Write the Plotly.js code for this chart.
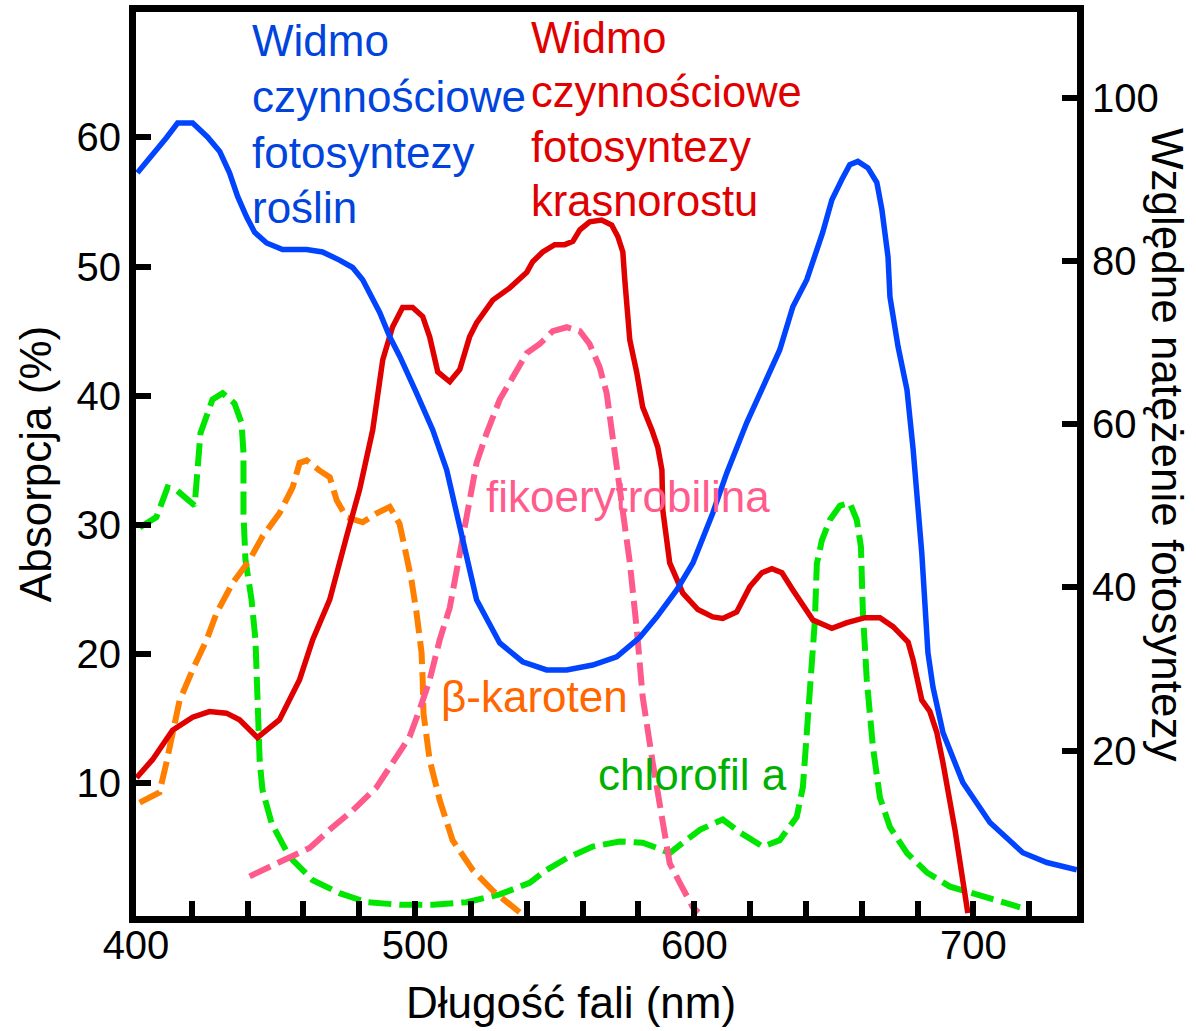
<!DOCTYPE html>
<html>
<head>
<meta charset="utf-8">
<script src="https://cdn.plot.ly/plotly-3.0.1.min.js"></script>
<style>html,body{margin:0;padding:0;background:#fff;}#chart{width:1196px;height:1031px;}</style>
</head>
<body>
<div id="chart"></div>
<script>
// Action spectrum of plants (right axis, relative photosynthesis rate)
const plantNm = [400.5,405.6,410.9,414.9,420.3,425.6,430.0,433.5,436.4,439.6,442.5,446.8,452.5,461.1,466.8,472.9,477.6,481.2,487.3,490.9,494.5,500.5,506.3,511.3,514.2,517.7,522.0,530.3,538.5,547.1,554.3,563.6,572.2,580.5,586.6,593.7,599.5,606.6,611.6,618.8,626.0,630.6,635.3,640.3,646.0,649.3,652.9,655.7,658.6,662.2,665.4,667.2,669.4,670.1,673.0,676.2,678.4,680.8,681.5,683.7,685.5,689.1,696.2,705.9,717.7,726.3,737.0];
const plantAction = [90.8,92.8,95.1,96.9,96.9,95.2,93.4,90.8,87.9,85.4,83.5,82.2,81.4,81.4,81.1,80.1,79.2,77.7,73.7,70.7,68.3,63.8,59.3,54.4,49.9,45.2,38.5,33.2,30.9,29.9,29.9,30.5,31.5,33.9,36.4,39.7,43.0,49.1,54.0,60.2,65.8,69.1,74.4,77.7,83.5,87.5,90.0,91.8,92.2,91.4,89.6,86.3,80.5,75.6,69.5,64.2,56.9,47.1,44.2,32.0,27.8,22.2,16.1,11.2,7.5,6.3,5.4];

// Action spectrum of red alga (right axis)
const algaNm = [400.2,405.9,413.1,420.3,426.3,432.4,437.1,443.5,451.4,458.6,463.3,469.4,475.4,480.1,484.8,488.4,491.9,495.5,499.1,502.7,505.2,508.1,512.4,516.0,519.5,522.0,527.8,533.9,540.0,542.1,545.7,550.0,553.6,556.5,559.0,562.5,566.8,570.4,572.6,574.4,575.1,576.9,579.4,581.5,584.8,586.9,588.4,588.7,591.2,595.9,601.3,606.6,610.2,615.2,619.9,624.2,627.8,631.4,635.3,642.5,649.3,654.7,661.2,666.5,671.2,676.6,678.4,681.5,684.4,686.9,689.1,691.6,693.4,695.2,697.0,698.0];
const algaAction = [16.7,18.9,22.5,24.1,24.8,24.6,23.8,21.6,23.8,28.7,33.6,38.5,46.2,52.0,59.3,67.9,71.9,74.3,74.3,73.2,70.7,66.4,65.2,66.7,70.7,72.4,75.2,76.7,78.6,79.9,81.1,82.0,82.0,82.4,83.8,84.8,85.0,84.4,83.0,81.1,77.7,70.3,66.3,62.1,59.3,57.2,54.4,49.5,43.0,39.3,37.3,36.4,36.2,37.0,40.1,41.8,42.3,41.8,39.7,36.0,35.0,35.7,36.3,36.3,35.2,33.3,31.1,26.2,24.8,22.2,18.5,14.0,10.3,6.3,2.9,0.1];

// Chlorophyll a absorption (left axis, %)
const chlNm = [401.3,407.3,411.3,414.5,421.0,421.7,423.1,427.4,431.0,435.3,437.8,438.5,438.5,439.2,441.4,442.8,443.5,444.3,445.3,448.6,455.0,463.3,472.9,482.6,494.4,506.3,518.5,530.3,541.0,547.1,554.3,563.6,573.3,581.5,586.6,591.2,595.9,602.0,610.2,616.3,624.6,630.6,636.7,638.9,640.3,642.1,643.2,643.9,645.7,648.6,652.2,655.7,658.2,659.7,660.4,661.8,664.0,666.5,670.1,676.2,683.3,691.6,699.8,708.4,716.7];
const chlAbs = [29.8,30.6,32.9,32.7,31.5,33.7,37.1,39.7,40.2,39.4,37.9,35.6,30.9,27.3,24.2,21.1,16.4,11.8,9.5,6.9,4.3,2.5,1.5,0.8,0.6,0.6,0.8,1.4,2.3,3.3,4.2,5.1,5.5,5.4,5.0,4.6,5.4,6.4,7.2,6.2,5.1,5.6,7.4,9.7,13.9,19.0,22.6,27.0,28.8,30.4,31.5,31.7,30.4,28.3,23.2,18.0,12.8,8.9,6.6,4.6,3.1,2.0,1.5,1.0,0.4];

// beta-carotene absorption (left axis, %)
const carNm = [401.3,408.4,410.9,413.1,415.6,420.3,425.3,428.9,434.6,440.7,445.3,451.4,456.1,458.6,461.1,465.8,469.4,471.9,475.4,481.2,486.2,490.9,494.4,496.2,498.7,500.5,502.3,502.7,503.0,505.2,508.8,513.4,520.6,527.8,537.5];
const carAbs = [8.5,9.3,11.6,14.1,16.4,18.8,21.1,23.2,25.5,27.3,29.1,30.9,32.9,34.8,35.0,34.2,33.7,31.9,30.6,30.2,30.9,31.4,30.1,28.3,25.7,23.2,20.1,18.0,15.4,11.8,8.7,5.6,3.3,1.7,0.0];

// Phycoerythrobilin absorption (left axis, %)
const pebNm = [440.7,451.4,462.2,470.4,477.6,486.2,491.9,498.0,501.6,505.2,508.8,512.4,514.9,517.1,519.5,522.0,525.6,530.3,534.9,540.0,544.6,549.3,554.3,559.0,562.5,566.1,568.6,570.4,572.6,574.4,576.9,579.4,581.5,585.1,588.7,591.2,594.8,599.5,601.5];
const pebAbs = [2.8,3.9,5.0,6.6,7.9,9.7,11.6,13.6,15.7,18.0,21.1,23.6,26.5,29.1,32.2,34.8,37.1,39.7,41.4,43.3,44.0,45.0,45.3,45.0,44.0,42.2,40.2,37.3,34.2,30.8,27.1,21.9,16.7,11.6,6.6,3.8,2.3,0.4,0.0];

const xTickVals = [400,500,600,700];
const yLeftTicks = [10,20,30,40,50,60];
const yRightTicks = [20,40,60,80,100];

const xTitle = 'Długość fali (nm)';
const yLeftTitle = 'Absorpcja (%)';
const yRightTitle = 'Względne natężenie fotosyntezy';

const plantLabel = ['Widmo','czynnościowe','fotosyntezy','roślin'];
const algaLabel = ['Widmo','czynnościowe','fotosyntezy','krasnorostu'];

const FONT = '"Liberation Sans", Arial, sans-serif';
const DASH = '23px,8px';

const traces = [
  {x: chlNm, y: chlAbs, yaxis: 'y', mode: 'lines', line: {color: '#00e600', width: 6, dash: DASH}, hoverinfo: 'skip'},
  {x: carNm, y: carAbs, yaxis: 'y', mode: 'lines', line: {color: '#ff8000', width: 6, dash: DASH}, hoverinfo: 'skip'},
  {x: pebNm, y: pebAbs, yaxis: 'y', mode: 'lines', line: {color: '#ff5a8c', width: 6, dash: DASH}, hoverinfo: 'skip'},
  {x: algaNm, y: algaAction, yaxis: 'y2', mode: 'lines', line: {color: '#e00000', width: 5.5}, hoverinfo: 'skip'},
  {x: plantNm, y: plantAction, yaxis: 'y2', mode: 'lines', line: {color: '#0044ff', width: 5.5}, hoverinfo: 'skip'}
];

const annotations = [];
const plantY = [0.968, 0.906, 0.845, 0.784];
plantLabel.forEach((t, i) => annotations.push({text: t, xref: 'paper', yref: 'paper', x: 0.1215, y: plantY[i], xanchor: 'left', yanchor: 'middle', showarrow: false, font: {family: FONT, size: 44, color: '#0044dd'}}));
const algaY = [0.971, 0.912, 0.851, 0.791];
algaLabel.forEach((t, i) => annotations.push({text: t, xref: 'paper', yref: 'paper', x: 0.4175, y: algaY[i], xanchor: 'left', yanchor: 'middle', showarrow: false, font: {family: FONT, size: 43.5, color: '#e00000'}}));
annotations.push({text: 'fikoerytrobilina', xref: 'paper', yref: 'paper', x: 0.3695, y: 0.4635, xanchor: 'left', yanchor: 'middle', showarrow: false, font: {family: FONT, size: 44, color: '#ff5c8d'}});
annotations.push({text: 'β-karoten', xref: 'paper', yref: 'paper', x: 0.3225, y: 0.2423, xanchor: 'left', yanchor: 'middle', showarrow: false, font: {family: FONT, size: 44, color: '#ff6600'}});
annotations.push({text: 'chlorofil a', xref: 'paper', yref: 'paper', x: 0.4885, y: 0.156, xanchor: 'left', yanchor: 'middle', showarrow: false, font: {family: FONT, size: 44, color: '#00b000'}});
// right axis title, reading top to bottom
annotations.push({text: yRightTitle, xref: 'paper', yref: 'paper', x: 1.0967, y: 0.521, xanchor: 'center', yanchor: 'middle', textangle: 90, showarrow: false, font: {family: FONT, size: 44, color: '#000'}});
// x axis title (offset left of plot centre as in the original)
annotations.push({text: xTitle, xref: 'paper', yref: 'paper', x: 0.4623, y: -0.0962, xanchor: 'center', yanchor: 'middle', showarrow: false, font: {family: FONT, size: 44, color: '#000'}});

const layout = {
  width: 1196, height: 1031,
  margin: {l: 136, r: 119, t: 12, b: 115},
  paper_bgcolor: '#ffffff', plot_bgcolor: '#ffffff',
  showlegend: false,
  font: {family: FONT, color: '#000000', size: 40},
  xaxis: {
    range: [400, 737.1], showgrid: false, zeroline: false,
    showline: true, linecolor: '#000', linewidth: 7, mirror: true,
    tickmode: 'array', tickvals: xTickVals,
    ticks: 'inside', ticklen: 15, tickwidth: 6, tickcolor: '#000',
    ticklabelstandoff: -12,
    minor: {tickmode: 'linear', tick0: 400, dtick: 20, ticks: 'inside', ticklen: 15, tickwidth: 6, tickcolor: '#000', showgrid: false},
    tickfont: {family: FONT, size: 40, color: '#000'}
  },
  yaxis: {
    range: [-0.27, 69.7], showgrid: false, zeroline: false,
    showline: true, linecolor: '#000', linewidth: 7,
    tickmode: 'array', tickvals: yLeftTicks,
    ticks: 'inside', ticklen: 15, tickwidth: 6, tickcolor: '#000',
    tickfont: {family: FONT, size: 40, color: '#000'},
    title: {text: yLeftTitle, font: {family: FONT, size: 44, color: '#000'}, standoff: 14}
  },
  yaxis2: {
    range: [-0.25, 110.5], overlaying: 'y', side: 'right',
    showgrid: false, zeroline: false,
    showline: true, linecolor: '#000', linewidth: 7,
    tickmode: 'array', tickvals: yRightTicks,
    ticks: 'inside', ticklen: 15, tickwidth: 6, tickcolor: '#000',
    tickfont: {family: FONT, size: 40, color: '#000'}
  },
  annotations: annotations
};

Plotly.newPlot('chart', traces, layout, {staticPlot: true, displayModeBar: false});
</script>
</body>
</html>
